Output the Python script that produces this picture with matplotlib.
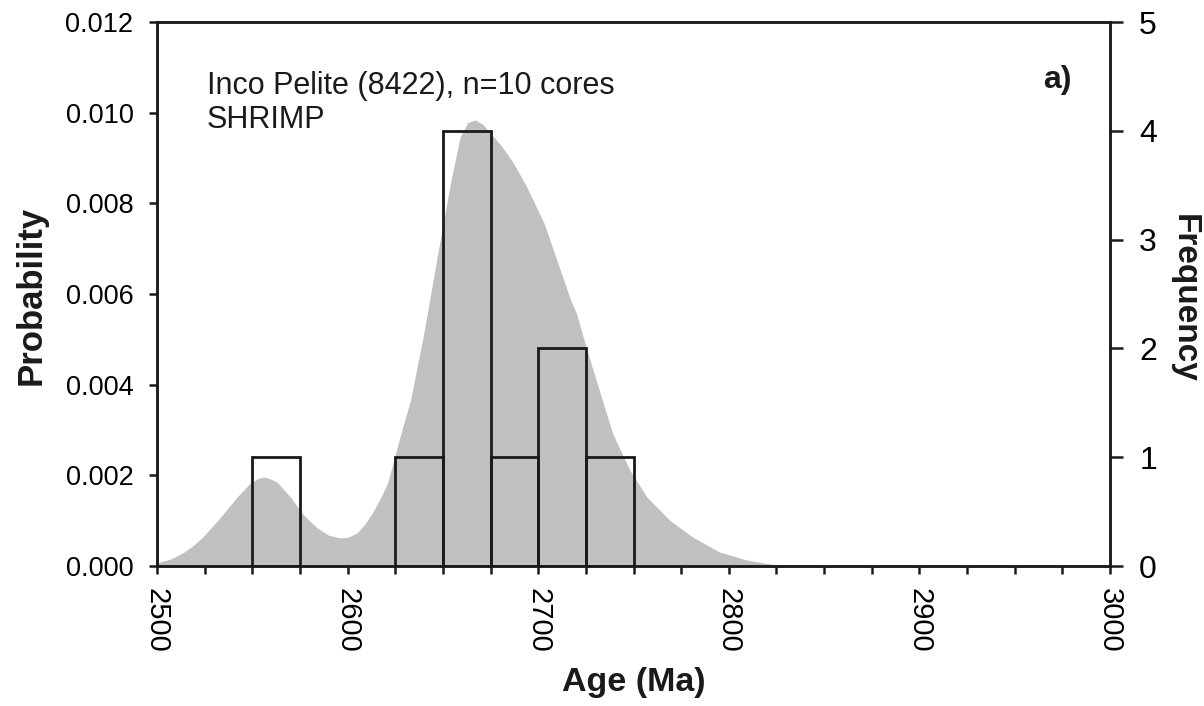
import matplotlib
matplotlib.use("Agg")
import matplotlib.pyplot as plt
from matplotlib.ticker import MultipleLocator, FormatStrFormatter

plt.rcParams['font.family'] = ['Liberation Sans', 'DejaVu Sans']

# Probability density curve
age_pts = [2500, 2507, 2513.6, 2519, 2524, 2533, 2542, 2549, 2553, 2556, 2559,
           2563, 2570, 2577, 2584, 2590, 2596, 2600, 2605, 2609, 2613, 2617,
           2621, 2627.5, 2633, 2640, 2647, 2654, 2659, 2663, 2667, 2671,
           2675, 2681, 2687, 2694, 2703, 2711, 2717, 2720, 2725.6, 2732, 2739,
           2748, 2757, 2769, 2781, 2795, 2809.5, 2825, 2840, 3000]
prob_pts = [0.00007, 0.00015, 0.00029, 0.00045, 0.00064, 0.00106, 0.00152,
            0.00183, 0.00193, 0.00196, 0.00193, 0.00185, 0.00152, 0.00112,
            0.00084, 0.00068, 0.00062, 0.00063, 0.00073, 0.00092, 0.00117,
            0.00148, 0.00183, 0.00285, 0.00366, 0.00514, 0.00682, 0.00845,
            0.00946, 0.00978, 0.00984, 0.00974, 0.00955, 0.00925, 0.00889,
            0.00836, 0.00757, 0.00660, 0.00587, 0.00558, 0.00476, 0.00388,
            0.00293, 0.00212, 0.00152, 0.00101, 0.00064, 0.00031, 0.00013,
            0.00002, 0.0, 0.0]

# Histogram (frequency) bins
bin_left = [2550, 2625, 2650, 2675, 2700, 2725]
bin_count = [1, 1, 4, 1, 2, 1]
bin_width = 25

x_ticks = [2500, 2600, 2700, 2800, 2900, 3000]
left_ticks = [0.000, 0.002, 0.004, 0.006, 0.008, 0.010, 0.012]
right_ticks = [0, 1, 2, 3, 4, 5]

W, H = 1204, 706
fig = plt.figure(figsize=(W / 100, H / 100), dpi=100)
L, R, T, B = 157, 1110, 22, 566
ax = fig.add_axes([L / W, 1 - B / H, (R - L) / W, (B - T) / H])

dark = '#1a1a1a'
ax.fill_between(age_pts, prob_pts, 0, color='#c0c0c0', lw=0, zorder=1)
ax.set_xlim(2500, 3000)
ax.set_ylim(0, 0.012)
ax.set_yticks(left_ticks)
ax.yaxis.set_major_formatter(FormatStrFormatter('%.3f'))
ax.set_xticks(x_ticks)
ax.xaxis.set_minor_locator(MultipleLocator(25))
ax.set_xticklabels([str(t) for t in x_ticks], rotation=-90)
ax.tick_params(axis='x', which='both', direction='out', length=6, width=1.8,
               color=dark, pad=10, labelsize=21)
ax.tick_params(axis='y', which='both', direction='out', length=6, width=1.8,
               color=dark, pad=11, labelsize=19.5)

ax2 = ax.twinx()
ax2.bar(bin_left, bin_count, width=bin_width, align='edge', fill=False,
        edgecolor=dark, linewidth=2.0, zorder=3)
ax2.set_ylim(0, 5)
ax2.set_yticks(right_ticks)
ax2.tick_params(axis='y', direction='out', length=9, width=1.8, color=dark,
                pad=12, labelsize=23)

for a in (ax, ax2):
    for s in a.spines.values():
        s.set_linewidth(1.8)
        s.set_color(dark)

fig.text(634 / W, 1 - 682 / H, 'Age (Ma)', ha='center', va='center',
         fontsize=24.5, fontweight='bold', color=dark)
fig.text(31 / W, 1 - 295 / H, 'Probability', ha='center', va='center',
         rotation=90, fontsize=25, fontweight='bold', color=dark)
fig.text(1184 / W, 1 - 298 / H, 'Frequency', ha='center', va='center',
         rotation=-90, fontsize=24, fontweight='bold', color=dark)

fig.text(207 / W, 1 - 94 / H, 'Inco Pelite (8422), n=10 cores', ha='left',
         va='baseline', fontsize=22, color=dark)
fig.text(207 / W, 1 - 128 / H, 'SHRIMP', ha='left', va='baseline',
         fontsize=22, color=dark)
fig.text(1072 / W, 1 - 88 / H, 'a)', ha='right', va='baseline',
         fontsize=23, fontweight='bold', color=dark)

fig.savefig('out.png', dpi=100)
